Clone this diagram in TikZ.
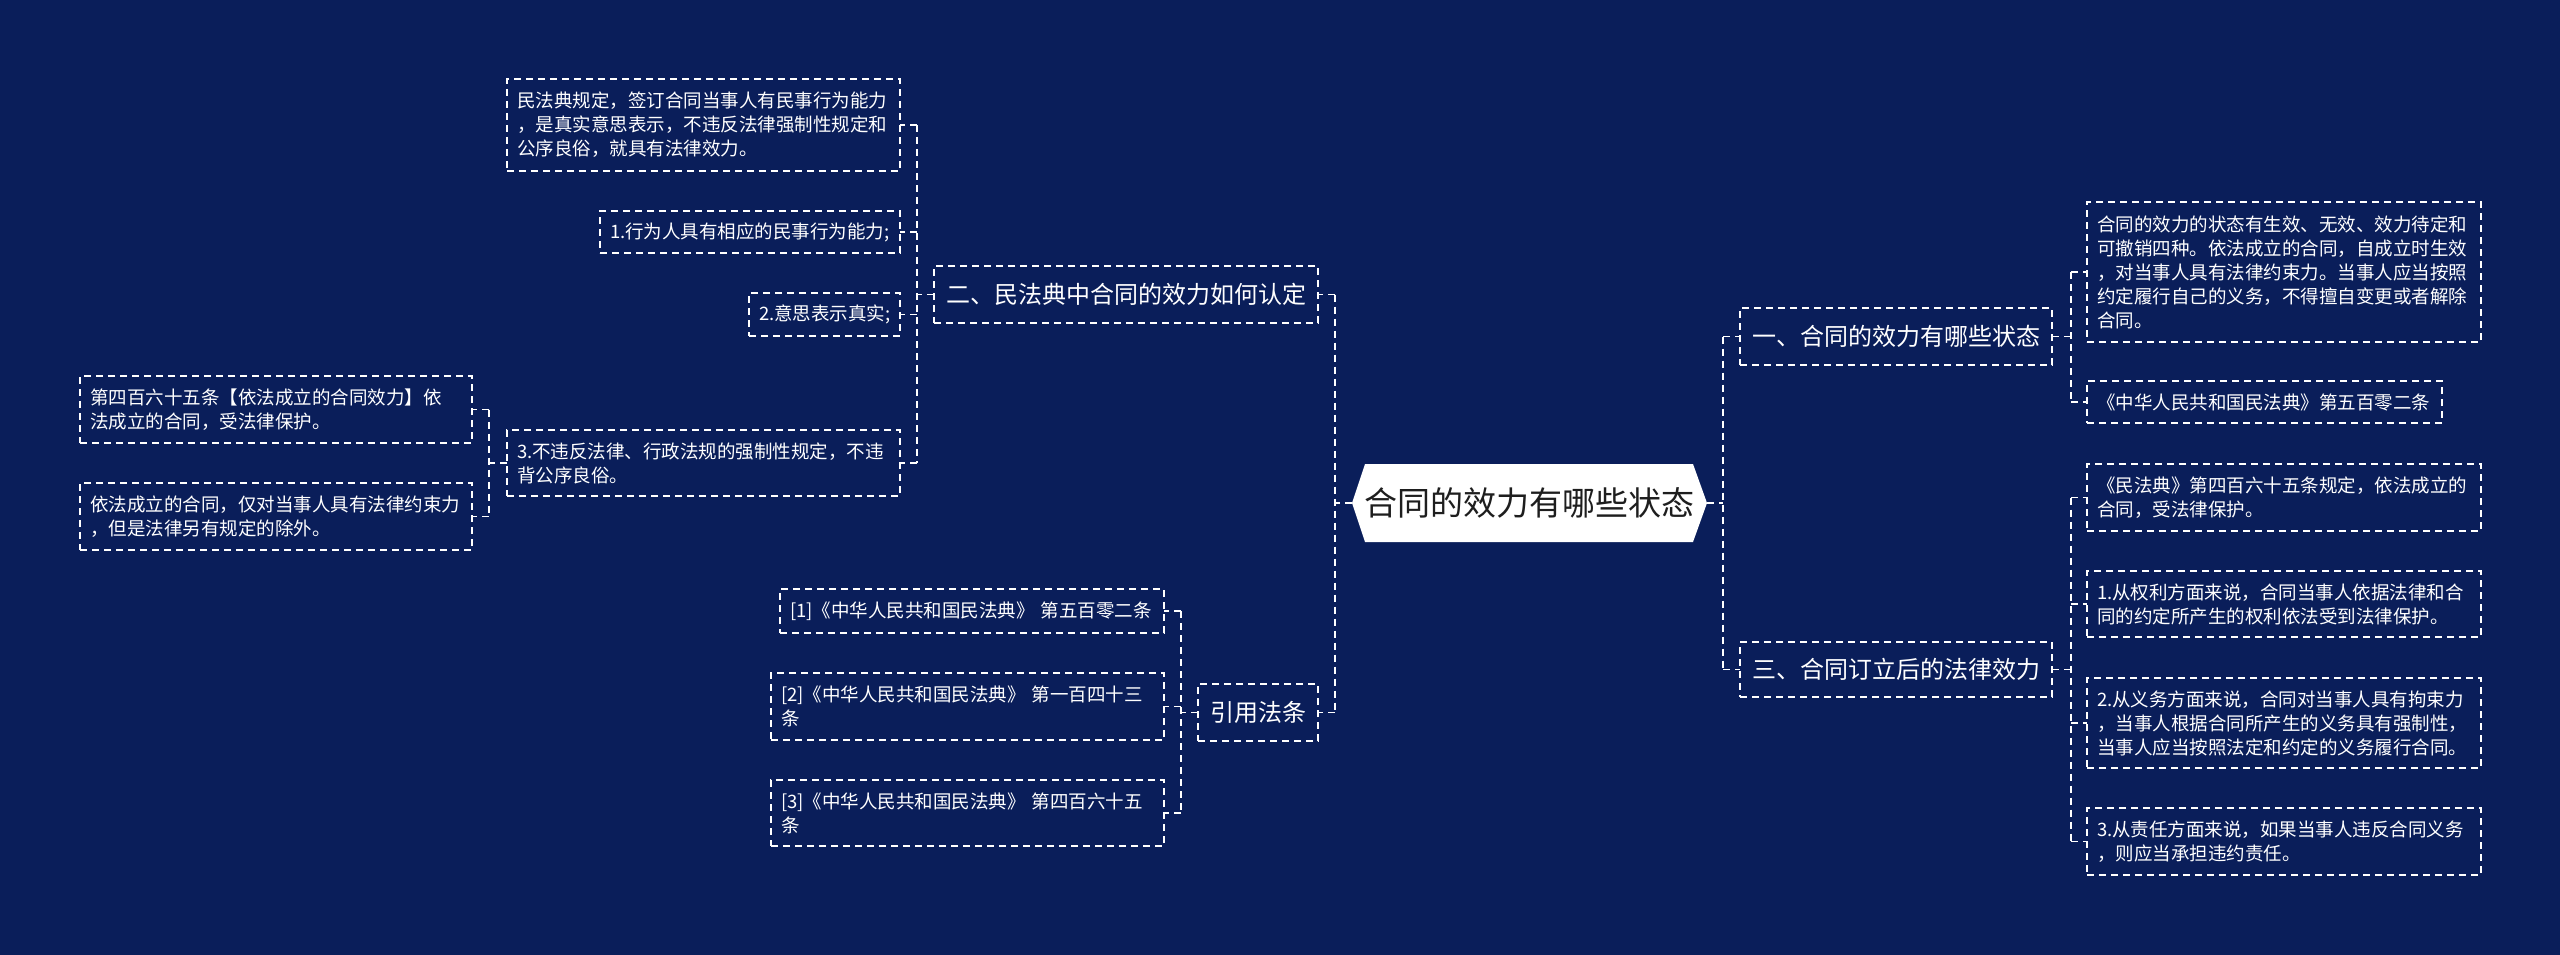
\documentclass[tikz,border=0pt]{standalone}
\usepackage{fontspec}
\setmainfont{Noto Sans CJK SC}
\usetikzlibrary{backgrounds}
\definecolor{bgc}{HTML}{0A1E5A}
\definecolor{maintext}{HTML}{1E1E1E}
\tikzset{
  dl/.style={draw=white, line width=1.8pt, dash pattern=on 7pt off 5pt},
  leaf/.style={dl, text=white, align=left, inner xsep=10pt, inner ysep=0pt, outer sep=0pt, anchor=north west, font=\fontsize{18.5}{24}\selectfont},
  head/.style={dl, text=white, align=left, inner xsep=12pt, inner ysep=0pt, outer sep=0pt, anchor=north west, font=\fontsize{24}{30}\selectfont},
  link/.style={draw=white, line width=1.8pt, dash pattern=on 7pt off 5pt}
}
\begin{document}
\begin{tikzpicture}[x=1pt,y=-1pt]
\useasboundingbox (0,0) rectangle (2560,955);
% main
\node[outer sep=0pt, inner sep=0pt, minimum width=355pt, minimum height=78pt, text=maintext, font=\fontsize{33}{40}\selectfont] (main) at (1529.5,503) {合同的效力有哪些状态};
\begin{scope}[on background layer]
\fill[bgc] (0,0) rectangle (2560,955);
\fill[white] (main.west) -- ([xshift=13pt]main.north west) -- ([xshift=-14pt]main.north east) -- (main.east) -- ([xshift=-14pt]main.south east) -- ([xshift=13pt]main.south west) -- cycle;
\end{scope}

% headings
\node[head, text width=360pt, minimum height=57pt] (h2) at (934,266) {二、民法典中合同的效力如何认定};
\node[head, text width=96pt, minimum height=57pt, align=center] (h4) at (1198,684) {引用法条};
\node[head, text width=288pt, minimum height=57pt] (h1) at (1740,308) {一、合同的效力有哪些状态};
\node[head, text width=288pt, minimum height=55pt] (h3) at (1740,642) {三、合同订立后的法律效力};

% group 二
\node[leaf, text width=373pt, minimum height=92pt] (a) at (507,79) {民法典规定，签订合同当事人有民事行为能力\\，是真实意思表示，不违反法律强制性规定和\\公序良俗，就具有法律效力。};
\node[leaf, text width=280pt, minimum height=42pt] (b) at (600,211) {1.行为人具有相应的民事行为能力;};
\node[leaf, text width=131pt, minimum height=43pt] (c) at (749,293) {2.意思表示真实;};
\node[leaf, text width=373pt, minimum height=66pt] (l) at (507,430) {3.不违反法律、行政法规的强制性规定，不违\\背公序良俗。};
\node[leaf, text width=372pt, minimum height=67pt] (j) at (80,376) {第四百六十五条【依法成立的合同效力】依\\法成立的合同，受法律保护。};
\node[leaf, text width=372pt, minimum height=67pt] (k) at (80,483) {依法成立的合同，仅对当事人具有法律约束力\\，但是法律另有规定的除外。};

% group 引用法条
\node[leaf, text width=364pt, minimum height=44pt] (m) at (780,589) {[1]《中华人民共和国民法典》 第五百零二条};
\node[leaf, text width=373pt, minimum height=67pt] (n) at (771,673) {[2]《中华人民共和国民法典》 第一百四十三\\条};
\node[leaf, text width=373pt, minimum height=66pt] (o) at (771,780) {[3]《中华人民共和国民法典》 第四百六十五\\条};

% group 一
\node[leaf, text width=374pt, minimum height=140pt] (d) at (2087,202) {合同的效力的状态有生效、无效、效力待定和\\可撤销四种。依法成立的合同，自成立时生效\\，对当事人具有法律约束力。当事人应当按照\\约定履行自己的义务，不得擅自变更或者解除\\合同。};
\node[leaf, text width=335pt, minimum height=42pt] (e) at (2087,381) {《中华人民共和国民法典》第五百零二条};

% group 三
\node[leaf, text width=374pt, minimum height=67pt] (f) at (2087,464) {《民法典》第四百六十五条规定，依法成立的\\合同，受法律保护。};
\node[leaf, text width=374pt, minimum height=66pt] (g) at (2087,571) {1.从权利方面来说，合同当事人依据法律和合\\同的约定所产生的权利依法受到法律保护。};
\node[leaf, text width=374pt, minimum height=90pt] (h) at (2087,678) {2.从义务方面来说，合同对当事人具有拘束力\\，当事人根据合同所产生的义务具有强制性，\\当事人应当按照法定和约定的义务履行合同。};
\node[leaf, text width=374pt, minimum height=67pt] (i) at (2087,808) {3.从责任方面来说，如果当事人违反合同义务\\，则应当承担违约责任。};

% connectors: main right
\coordinate (sR) at ([xshift=16pt]main.east);
\draw[link] (main.east) -- (sR);
\draw[link] (sR |- h1.west) -- (sR |- h3.west);
\draw[link] (sR |- h1.west) -- (h1.west);
\draw[link] (sR |- h3.west) -- (h3.west);
% main left
\coordinate (sL) at ([xshift=-17pt]main.west);
\draw[link] (main.west) -- (sL);
\draw[link] (sL |- h2.east) -- (sL |- h4.east);
\draw[link] (sL |- h2.east) -- (h2.east);
\draw[link] (sL |- h4.east) -- (h4.east);
% 二
\coordinate (s2) at ([xshift=-17pt]h2.west);
\draw[link] (h2.west) -- (s2);
\draw[link] (s2 |- a.east) -- (s2 |- l.east);
\foreach \t in {a,b,c,l} \draw[link] (s2 |- \t.east) -- (\t.east);
% 3.不违反
\coordinate (s5) at ([xshift=-18pt]l.west);
\draw[link] (l.west) -- (s5);
\draw[link] (s5 |- j.east) -- (s5 |- k.east);
\foreach \t in {j,k} \draw[link] (s5 |- \t.east) -- (\t.east);
% 引用法条
\coordinate (s4) at ([xshift=-17pt]h4.west);
\draw[link] (h4.west) -- (s4);
\draw[link] (s4 |- m.east) -- (s4 |- o.east);
\foreach \t in {m,n,o} \draw[link] (s4 |- \t.east) -- (\t.east);
% 一
\coordinate (s1) at ([xshift=19pt]h1.east);
\draw[link] (h1.east) -- (s1);
\draw[link] (s1 |- d.west) -- (s1 |- e.west);
\foreach \t in {d,e} \draw[link] (s1 |- \t.west) -- (\t.west);
% 三
\coordinate (s3) at ([xshift=19pt]h3.east);
\draw[link] (h3.east) -- (s3);
\draw[link] (s3 |- f.west) -- (s3 |- i.west);
\foreach \t in {f,g,h,i} \draw[link] (s3 |- \t.west) -- (\t.west);
\end{tikzpicture}
\end{document}
